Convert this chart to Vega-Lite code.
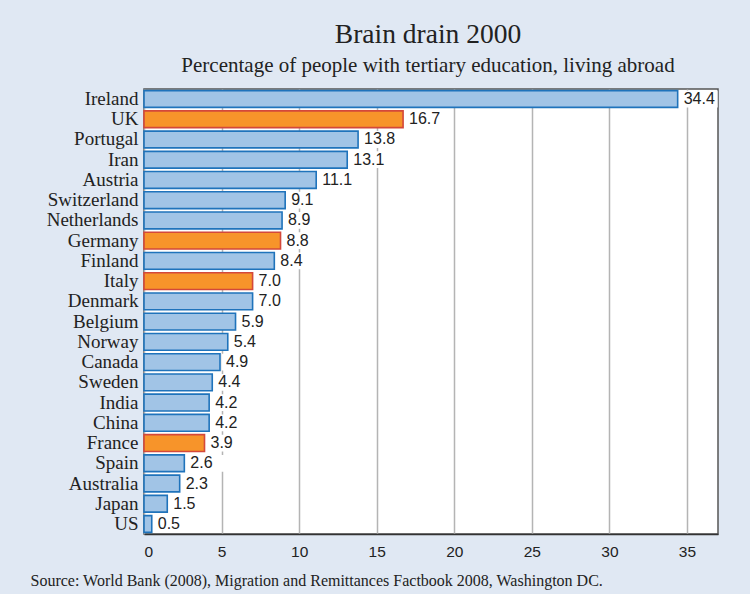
{
  "$schema": "https://vega.github.io/schema/vega-lite/v6.json",
  "width": 574,
  "height": 445,
  "autosize": {"type": "none"},
  "padding": {"left": 144, "top": 89, "right": 32, "bottom": 60},
  "background": "#e0e8f3",
  "title": {
    "text": "Brain drain 2000",
    "subtitle": "Percentage of people with tertiary education, living abroad",
    "font": "Liberation Serif",
    "fontSize": 27.5,
    "fontWeight": "normal",
    "color": "#222222",
    "subtitleFont": "Liberation Serif",
    "subtitleFontSize": 21,
    "subtitleColor": "#222222",
    "subtitlePadding": 7,
    "anchor": "middle",
    "dx": -3,
    "offset": 13
  },
  "data": {
    "values": [
      {"country": "Ireland", "value": 34.4, "group": "other"},
      {"country": "UK", "value": 16.7, "group": "highlight"},
      {"country": "Portugal", "value": 13.8, "group": "other"},
      {"country": "Iran", "value": 13.1, "group": "other"},
      {"country": "Austria", "value": 11.1, "group": "other"},
      {"country": "Switzerland", "value": 9.1, "group": "other"},
      {"country": "Netherlands", "value": 8.9, "group": "other"},
      {"country": "Germany", "value": 8.8, "group": "highlight"},
      {"country": "Finland", "value": 8.4, "group": "other"},
      {"country": "Italy", "value": 7.0, "group": "highlight"},
      {"country": "Denmark", "value": 7.0, "group": "other"},
      {"country": "Belgium", "value": 5.9, "group": "other"},
      {"country": "Norway", "value": 5.4, "group": "other"},
      {"country": "Canada", "value": 4.9, "group": "other"},
      {"country": "Sweden", "value": 4.4, "group": "other"},
      {"country": "India", "value": 4.2, "group": "other"},
      {"country": "China", "value": 4.2, "group": "other"},
      {"country": "France", "value": 3.9, "group": "highlight"},
      {"country": "Spain", "value": 2.6, "group": "other"},
      {"country": "Australia", "value": 2.3, "group": "other"},
      {"country": "Japan", "value": 1.5, "group": "other"},
      {"country": "US", "value": 0.5, "group": "other"}
    ]
  },
  "encoding": {
    "y": {
      "field": "country",
      "type": "nominal",
      "sort": null,
      "scale": {"paddingInner": 0.17, "paddingOuter": 0.08},
      "axis": {
        "title": null,
        "ticks": false,
        "domain": false,
        "labelFont": "Liberation Serif",
        "labelFontSize": 19,
        "labelColor": "#222222",
        "labelPadding": 6
      }
    }
  },
  "layer": [
    {
      "mark": {"type": "bar", "fill": "white", "stroke": null, "xOffset": 2, "x2Offset": 40},
      "encoding": {
        "x": {
          "field": "value",
          "type": "quantitative",
          "scale": {"domain": [0, 37], "nice": false},
          "axis": {
            "values": [0, 5, 10, 15, 20, 25, 30, 35],
            "grid": true,
            "gridColor": "#b4b4b4",
            "gridWidth": 1.5,
            "ticks": false,
            "domain": true,
            "domainColor": "#333333",
            "domainWidth": 1.5,
            "labelFont": "Liberation Sans",
            "labelFontSize": 15.5,
            "labelColor": "#222222",
            "labelPadding": 10,
            "title": "Source: World Bank (2008), Migration and Remittances Factbook 2008, Washington DC.",
            "titleFont": "Liberation Serif",
            "titleFontSize": 16,
            "titleFontWeight": "normal",
            "titleColor": "#222222",
            "titleAnchor": "start",
            "titleAlign": "left",
            "titleBaseline": "alphabetic",
            "titleX": -114,
            "titleY": 51
          }
        },
        "x2": {"field": "value"}
      }
    },
    {
      "mark": {"type": "bar", "strokeWidth": 1.6},
      "encoding": {
        "x": {"field": "value", "type": "quantitative"},
        "fill": {
          "field": "group",
          "type": "nominal",
          "scale": {"domain": ["other", "highlight"], "range": ["#a1c4e6", "#f7942a"]},
          "legend": null
        },
        "stroke": {
          "field": "group",
          "type": "nominal",
          "scale": {"domain": ["other", "highlight"], "range": ["#1f73bb", "#d4483a"]},
          "legend": null
        }
      }
    },
    {
      "mark": {
        "type": "text",
        "align": "left",
        "baseline": "middle",
        "dx": 6,
        "font": "Liberation Sans",
        "fontSize": 16,
        "color": "#222222"
      },
      "encoding": {
        "x": {"field": "value", "type": "quantitative"},
        "text": {"field": "value", "type": "quantitative", "format": ".1f"}
      }
    }
  ],
  "config": {
    "view": {"fill": "white", "stroke": "#555555", "strokeWidth": 1.5}
  }
}
